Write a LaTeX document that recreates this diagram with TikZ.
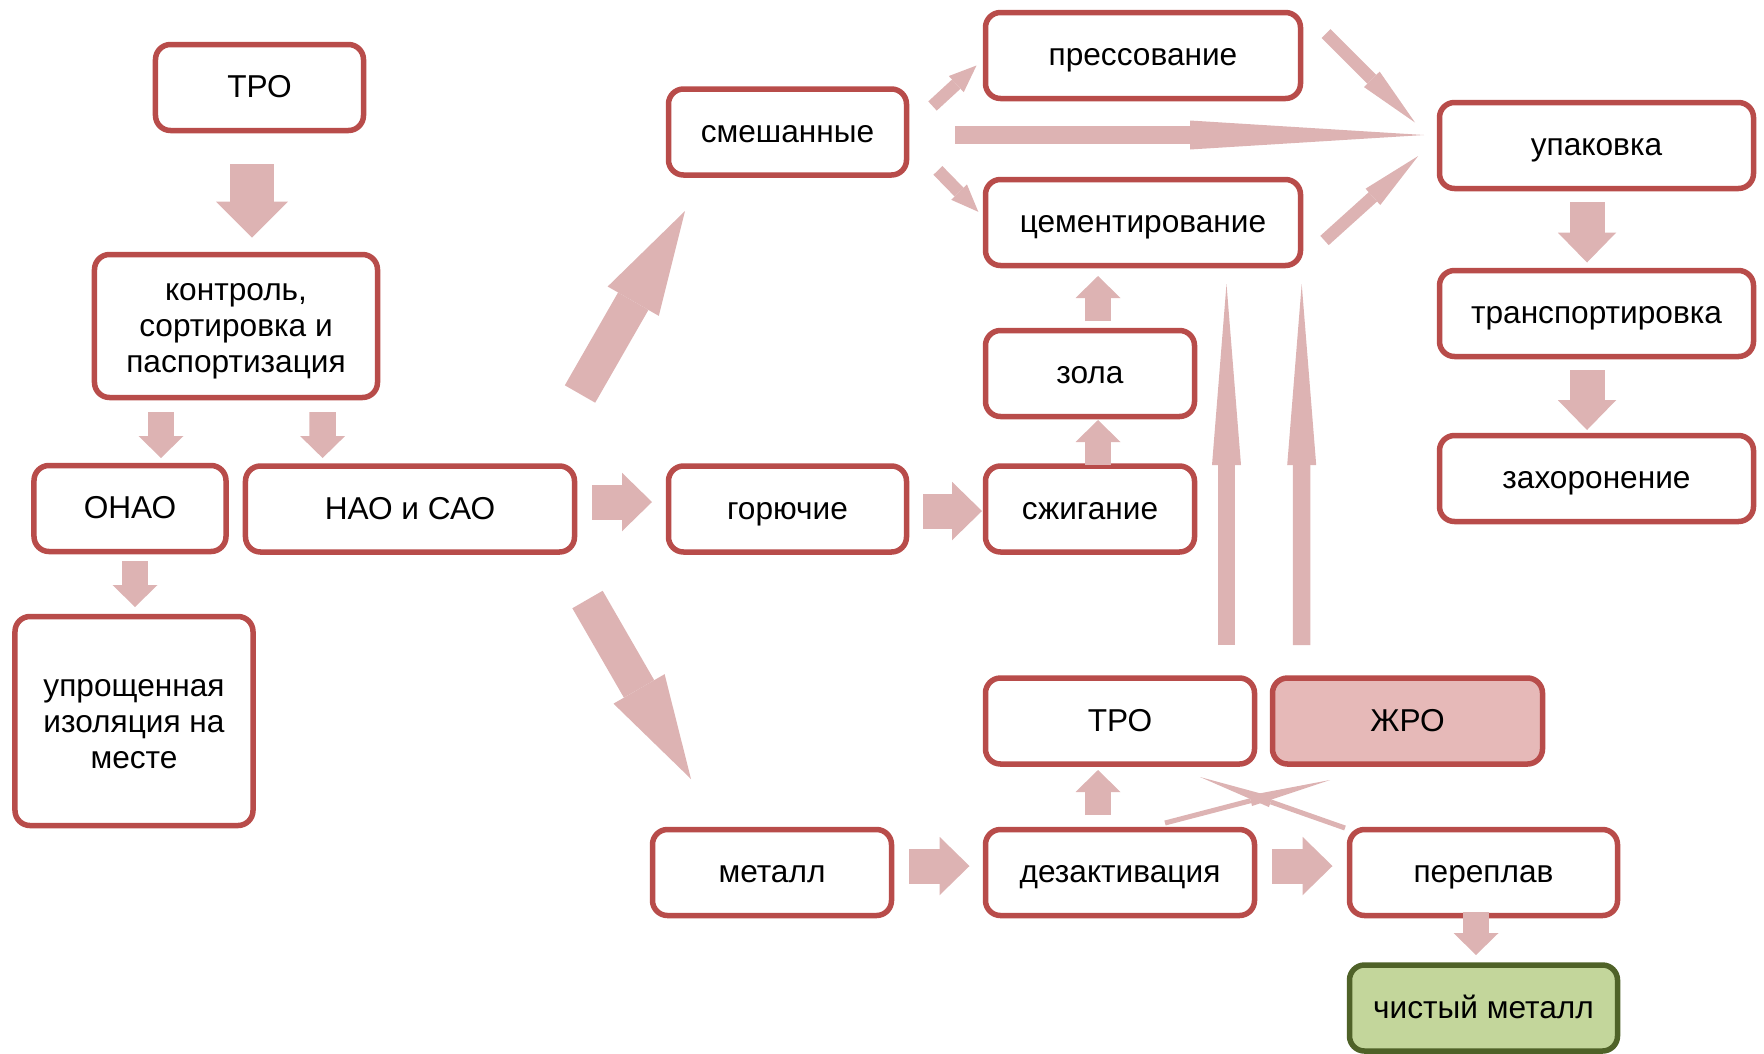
\documentclass[tikz,border=0pt]{standalone}
\usepackage{fontspec}
\setmainfont{Liberation Sans}
\usetikzlibrary{arrows.meta}

\definecolor{boxred}{RGB}{184,76,74}
\definecolor{arrpink}{RGB}{221,179,179}
\definecolor{zhrofill}{RGB}{230,185,184}
\definecolor{leaf}{RGB}{195,214,155}
\definecolor{leafdark}{RGB}{79,98,40}

\begin{document}
\begin{tikzpicture}[x=0.2mm, y=-0.2mm,
		frame/.style={draw=boxred, line width=1.1mm, rounded corners=3mm, fill=white, outer sep=0pt, inner sep=0pt, minimum height=17.2mm, align=center, font=\fontsize{18}{20.5}\selectfont},
		box/.style={frame, text height=15.3pt, text depth=3.8pt},
		toparr/.style={draw=arrpink, line width=8.8mm, -{Triangle[length=7.2mm, width=14.4mm, line width=0pt]}},
		midarr/.style={draw=arrpink, line width=7mm, -{Triangle[length=6mm, width=11.7mm, line width=0pt]}},
		smallarr/.style={draw=arrpink, line width=5.3mm, -{Triangle[length=4.4mm, width=9mm, line width=0pt]}},
		widearr/.style={draw=arrpink, line width=7mm, -{Triangle[length=20.8mm, width=11.8mm, line width=0pt]}},
		slimarr/.style={draw=arrpink, line width=2.5mm, -{Triangle[length=#1, width=4.4mm, line width=0pt]}},
		spikearr/.style={draw=arrpink, line width=3.5mm, -{Triangle[length=#1, width=5.8mm, line width=0pt]}},
		crossarr/.style={draw=arrpink, line width=1mm, -{Triangle[length=#1, width=2.2mm, line width=0pt]}}]
			%%%%% FRAME %%%%%
			\useasboundingbox (0,0) rectangle (1764,1053);
			
			%%%%% LEFT COLUMN %%%%%
			\node[box, minimum width=41.6mm] (tro1) at (259.5,87.5) {ТРО};
			\node[frame, minimum width=56.6mm, minimum height=28.6mm] (ctrl) at (236,326) {\rule{0pt}{15.7pt}контроль,\\сортировка и\\паспортизация};
			\node[box, minimum width=38.4mm] (onao) at (130,508.5) {ОНАО};
			\node[box, minimum width=65.8mm] (nao) at (410,509) {НАО и САО};
			\node[frame, minimum width=47.6mm, minimum height=41.8mm] (upr) at (134,721) {\rule{0pt}{13.2pt}упрощенная\\изоляция на\\месте};
			
			%%%%% MIDDLE %%%%%
			\node[box, minimum width=47.6mm] (smesh) at (787.5,132) {смешанные};
			\node[box, minimum width=47.6mm] (gor) at (787.5,509) {горючие};
			\node[box, minimum width=47.8mm] (met) at (772,872.5) {металл};
			
			\node[box, minimum width=63mm] (press) at (1143,55.5) {прессование};
			\node[box, minimum width=63mm] (cem) at (1143,222.5) {цементирование};
			\node[box, minimum width=41.8mm] (zola) at (1090,373.5) {зола};
			\node[box, minimum width=41.8mm] (szh) at (1090,509) {сжигание};
			
			\node[box, minimum width=53.8mm] (tro2) at (1120,721) {ТРО};
			\node[box, minimum width=54mm, fill=zhrofill] (zhro) at (1407.5,721) {ЖРО};
			\node[box, minimum width=53.8mm] (dez) at (1120,872.5) {дезактивация};
			\node[box, minimum width=53.6mm] (perepl) at (1483.5,872.5) {переплав};
			\node[box, minimum width=53.6mm, draw=leafdark, fill=leaf] (chist) at (1483.5,1008) {чистый металл};
			
			%%%%% RIGHT COLUMN %%%%%
			\node[box, minimum width=62.8mm] (upak) at (1596.5,145.5) {упаковка};
			\node[box, minimum width=62.8mm] (trans) at (1596.5,313.5) {транспортировка};
			\node[box, minimum width=62.8mm] (zakh) at (1596.5,478.5) {захоронение};
			
			%%%%% ARROWS %%%%%
			\draw[toparr] ([shift={(-7.5,33.5)}]tro1.south) -- ([shift={(16,-17)}]ctrl.north);
			\draw[smallarr] ([shift={(-75,14.5)}]ctrl.south) -- ([shift={(31,-7.5)}]onao.north);
			\draw[smallarr] ([shift={(86.6,14.5)}]ctrl.south) -- ([shift={(-87.4,-8)}]nao.north);
			\draw[smallarr] ([shift={(5,9.5)}]onao.south) -- ([shift={(1,-9.5)}]upr.north);
			
			\draw[widearr] ([shift={(5.5,-72)}]nao.north east) -- ([shift={(16.5,36)}]smesh.south west);
			\draw[widearr] ([shift={(13,47.5)}]nao.south east) -- ([shift={(38.5,-50.5)}]met.north west);
			\draw[midarr] ([shift={(17.5,-7)}]nao.east) -- ([shift={(-16.5,-7)}]gor.west);
			\draw[midarr] ([shift={(16.5,2)}]gor.east) -- ([shift={(-3.5,2)}]szh.west);
			\draw[smallarr] ([shift={(8,-1)}]szh.north) -- ([shift={(8,3.5)}]zola.south);
			\draw[smallarr] ([shift={(8,-9.5)}]zola.north) -- ([shift={(-45,10.5)}]cem.south);
			
			\draw[slimarr=5.5mm] ([shift={(26,-26)}]smesh.east) -- ([shift={(-9,10)}]press.west);
			\draw[slimarr=5.5mm] ([shift={(31.4,38.4)}]smesh.east) -- ([shift={(-7.2,-10.7)}]cem.west);
			\draw[spikearr=46.8mm] ([shift={(48.5,3)}]smesh.east) -- ([shift={(-15.5,-10.5)}]upak.west);
			\draw[slimarr=12.2mm] ([shift={(25.5,-22)}]press.east) -- ([shift={(-24.5,-23)}]upak.west);
			\draw[slimarr=12.2mm] ([shift={(24,18)}]cem.east) -- ([shift={(-21.3,10.5)}]upak.west);
			
			\draw[spikearr=36.2mm] ([shift={(106.5,-33)}]tro2.north) -- ([shift={(83.5,18.5)}]cem.south);
			\draw[spikearr=36.2mm] ([shift={(-105.8,-33)}]zhro.north) -- ([shift={(158.7,18.5)}]cem.south);
			
			\draw[midarr] ([shift={(17.5,-6.5)}]met.east) -- ([shift={(-16,-6.5)}]dez.west);
			\draw[midarr] ([shift={(17.5,-6.5)}]dez.east) -- ([shift={(-17,-6.5)}]perepl.west);
			\draw[smallarr] ([shift={(-22,-14.5)}]dez.north) -- ([shift={(-22,6)}]tro2.south);
			\draw[smallarr] ([shift={(-7.5,-3.5)}]perepl.south) -- ([shift={(-7.5,-10)}]chist.north);
			\draw[crossarr=16.4mm] ([shift={(-89.5,-6.5)}]dez.north east) -- ([shift={(57.5,16)}]zhro.south west);
			\draw[crossarr=15mm] ([shift={(-4.5,-1.5)}]perepl.north west) -- ([shift={(-54.5,13)}]tro2.south east);
			
			\draw[midarr] ([shift={(-9.5,13.5)}]upak.south) -- ([shift={(-9.5,-8)}]trans.north);
			\draw[midarr] ([shift={(-9.5,13.5)}]trans.south) -- ([shift={(-9.5,-5.5)}]zakh.north);
			%%%%% END %%%%%
\end{tikzpicture}
\end{document}
